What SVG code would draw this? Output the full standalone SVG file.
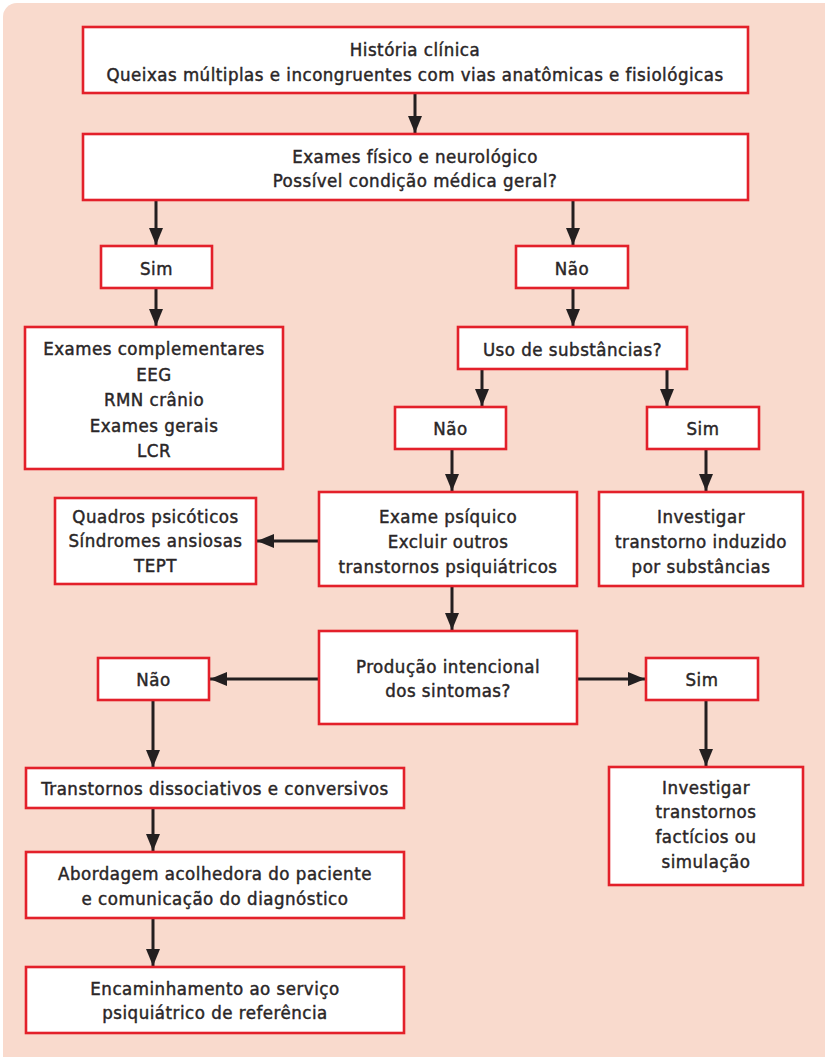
<svg xmlns="http://www.w3.org/2000/svg" width="825" height="1057" viewBox="0 0 825 1057">
  <defs>
    <marker id="arrow" markerUnits="userSpaceOnUse" markerWidth="17" markerHeight="14" refX="17" refY="7" orient="auto">
      <path d="M0,0 L17,7 L0,14 Z" fill="#231f20"/>
    </marker>
    <style>
      .box { fill: #ffffff; stroke: #e3202a; stroke-width: 2.6; }
      .lbl { font-family: "DejaVu Sans Condensed", "DejaVu Sans", sans-serif; font-size: 18.5px; letter-spacing: 0.5px; fill: #2a2627; stroke: #2a2627; stroke-width: 0.45; text-anchor: middle; }
      .conn { stroke: #231f20; stroke-width: 3; fill: none; marker-end: url(#arrow); }
    </style>
  </defs>

  <!-- panel background -->
  <rect x="3" y="3" width="840" height="1070" rx="14" fill="#f9dacd"/>

  <!-- connectors -->
  <g id="connectors">
    <line class="conn" x1="415" y1="93" x2="415" y2="133"/>
    <line class="conn" x1="156" y1="200" x2="156" y2="245"/>
    <line class="conn" x1="573" y1="200" x2="573" y2="245"/>
    <line class="conn" x1="156" y1="288" x2="156" y2="326"/>
    <line class="conn" x1="573" y1="288" x2="573" y2="326"/>
    <line class="conn" x1="482" y1="369" x2="482" y2="406"/>
    <line class="conn" x1="667" y1="369" x2="667" y2="406"/>
    <line class="conn" x1="452" y1="449" x2="452" y2="491"/>
    <line class="conn" x1="706" y1="449" x2="706" y2="491"/>
    <line class="conn" x1="319" y1="541" x2="257" y2="541"/>
    <line class="conn" x1="452" y1="586" x2="452" y2="630"/>
    <line class="conn" x1="319" y1="679" x2="210" y2="679"/>
    <line class="conn" x1="577" y1="679" x2="645" y2="679"/>
    <line class="conn" x1="153" y1="700" x2="153" y2="767"/>
    <line class="conn" x1="706" y1="700" x2="706" y2="766"/>
    <line class="conn" x1="153" y1="808" x2="153" y2="851"/>
    <line class="conn" x1="153" y1="918" x2="153" y2="966"/>
  </g>

  <g id="historia">
    <rect class="box" x="83" y="27" width="665" height="66"/>
    <text class="lbl" x="415" y="56">História clínica</text>
    <text class="lbl" x="415" y="81">Queixas múltiplas e incongruentes com vias anatômicas e fisiológicas</text>
  </g>

  <g id="exames-fisico">
    <rect class="box" x="83" y="134" width="665" height="66"/>
    <text class="lbl" x="415" y="163">Exames físico e neurológico</text>
    <text class="lbl" x="415" y="187">Possível condição médica geral?</text>
  </g>

  <g id="sim-1">
    <rect class="box" x="101" y="246" width="111" height="42"/>
    <text class="lbl" x="156.5" y="275">Sim</text>
  </g>

  <g id="nao-1">
    <rect class="box" x="516" y="246" width="112" height="42"/>
    <text class="lbl" x="572" y="275">Não</text>
  </g>

  <g id="exames-complementares">
    <rect class="box" x="25" y="327" width="258" height="142"/>
    <text class="lbl" x="154" y="355">Exames complementares</text>
    <text class="lbl" x="154" y="380.5">EEG</text>
    <text class="lbl" x="154" y="406">RMN crânio</text>
    <text class="lbl" x="154" y="431.5">Exames gerais</text>
    <text class="lbl" x="154" y="457">LCR</text>
  </g>

  <g id="uso-substancias">
    <rect class="box" x="458" y="327" width="229" height="42"/>
    <text class="lbl" x="572.5" y="356">Uso de substâncias?</text>
  </g>

  <g id="nao-2">
    <rect class="box" x="395" y="407" width="111" height="42"/>
    <text class="lbl" x="450.5" y="435">Não</text>
  </g>

  <g id="sim-2">
    <rect class="box" x="647" y="407" width="112" height="42"/>
    <text class="lbl" x="703" y="435">Sim</text>
  </g>

  <g id="quadros-psicoticos">
    <rect class="box" x="55" y="498" width="201" height="86"/>
    <text class="lbl" x="155.5" y="523">Quadros psicóticos</text>
    <text class="lbl" x="155.5" y="547">Síndromes ansiosas</text>
    <text class="lbl" x="155.5" y="572">TEPT</text>
  </g>

  <g id="exame-psiquico">
    <rect class="box" x="319" y="492" width="258" height="94"/>
    <text class="lbl" x="448" y="523">Exame psíquico</text>
    <text class="lbl" x="448" y="548">Excluir outros</text>
    <text class="lbl" x="448" y="573">transtornos psiquiátricos</text>
  </g>

  <g id="investigar-substancias">
    <rect class="box" x="599" y="492" width="204" height="94"/>
    <text class="lbl" x="701" y="523">Investigar</text>
    <text class="lbl" x="701" y="548">transtorno induzido</text>
    <text class="lbl" x="701" y="573">por substâncias</text>
  </g>

  <g id="producao-intencional">
    <rect class="box" x="319" y="631" width="258" height="93"/>
    <text class="lbl" x="448" y="673">Produção intencional</text>
    <text class="lbl" x="448" y="697">dos sintomas?</text>
  </g>

  <g id="nao-3">
    <rect class="box" x="98" y="658" width="111" height="42"/>
    <text class="lbl" x="153.5" y="686">Não</text>
  </g>

  <g id="sim-3">
    <rect class="box" x="646" y="658" width="112" height="42"/>
    <text class="lbl" x="702" y="686">Sim</text>
  </g>

  <g id="transtornos-dissociativos">
    <rect class="box" x="26" y="768" width="378" height="40"/>
    <text class="lbl" x="215" y="795">Transtornos dissociativos e conversivos</text>
  </g>

  <g id="investigar-facticios">
    <rect class="box" x="609" y="767" width="194" height="118"/>
    <text class="lbl" x="706" y="794">Investigar</text>
    <text class="lbl" x="706" y="818">transtornos</text>
    <text class="lbl" x="706" y="843">factícios ou</text>
    <text class="lbl" x="706" y="868">simulação</text>
  </g>

  <g id="abordagem">
    <rect class="box" x="26" y="852" width="378" height="66"/>
    <text class="lbl" x="215" y="880">Abordagem acolhedora do paciente</text>
    <text class="lbl" x="215" y="905">e comunicação do diagnóstico</text>
  </g>

  <g id="encaminhamento">
    <rect class="box" x="26" y="967" width="378" height="66"/>
    <text class="lbl" x="215" y="995">Encaminhamento ao serviço</text>
    <text class="lbl" x="215" y="1019">psiquiátrico de referência</text>
  </g>
</svg>
